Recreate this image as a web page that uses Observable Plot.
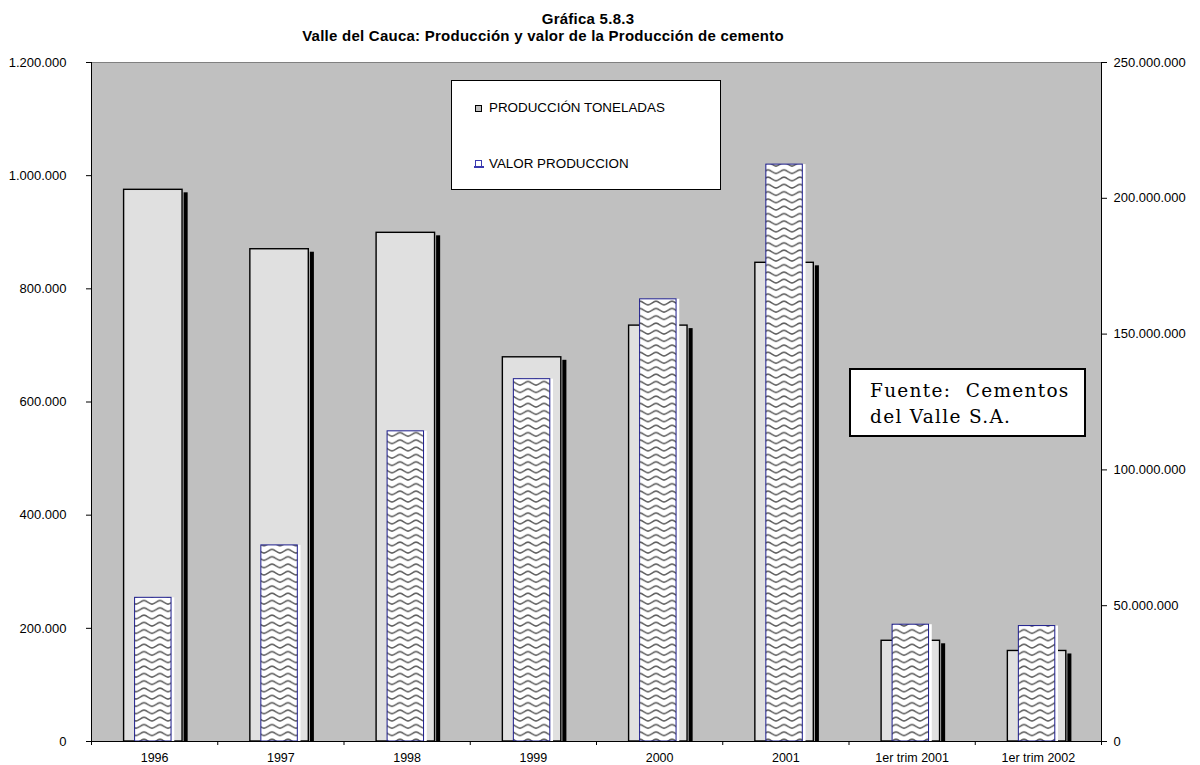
<!DOCTYPE html>
<html>
<head>
<meta charset="utf-8">
<script src="https://cdn.jsdelivr.net/npm/d3@7"></script>
<script src="https://cdn.jsdelivr.net/npm/@observablehq/plot@0.6"></script>
<style>
  html, body { margin: 0; padding: 0; background: #fff; }
  #wrap { position: relative; width: 1200px; height: 765px; overflow: hidden; font-family: "Liberation Sans", Arial, sans-serif; color: #000; }
  #wrap svg { position: absolute; left: 0; top: 0; }
  .title { position: absolute; font-weight: bold; font-size: 15px; line-height: 17px; letter-spacing: 0.25px; white-space: nowrap; transform: translateX(-50%); z-index: 2; }
  .legend { position: absolute; left: 451px; top: 80px; width: 270px; height: 110px; box-sizing: border-box; border: 1.3px solid #000; background: #fff; z-index: 2; }
  .lgtext { position: absolute; font-size: 13.4px; line-height: 1; white-space: nowrap; z-index: 3; }
  .sw1 { position: absolute; left: 475px; top: 105px; width: 7px; height: 7px; box-sizing: border-box; border: 1.3px solid #000; background: #c0c0c0; z-index: 3; }
  .sw2 { position: absolute; left: 475px; top: 160px; width: 7px; height: 7px; box-sizing: border-box; border: 1.4px solid #3a3ab0; border-bottom-width: 0; background: #fff; z-index: 3; }
  .sw2b { position: absolute; left: 474px; top: 166px; width: 10px; height: 2px; background: #3a3ab0; z-index: 3; }
  .fuente { position: absolute; left: 849px; top: 368px; width: 237px; height: 69px; box-sizing: border-box; border: 2px solid #000; background: #fff; z-index: 2; }
  .ftext { position: absolute; left: 870px; top: 378px; font-family: "DejaVu Serif", "Liberation Serif", serif; font-size: 18.5px; line-height: 25.6px; letter-spacing: 1.3px; white-space: pre; z-index: 3; }
</style>
</head>
<body>
<div id="wrap">
  <div class="title" style="left:588px; top:10px;">Gráfica 5.8.3</div>
  <div class="title" style="left:543px; top:27px;">Valle del Cauca: Producción y valor de la Producción de cemento</div>
  <div class="legend"></div>
  <div class="sw1"></div>
  <div class="lgtext" style="left:489px; top:101px;">PRODUCCIÓN TONELADAS</div>
  <div class="sw2"></div>
  <div class="sw2b"></div>
  <div class="lgtext" style="left:489px; top:157px;">VALOR PRODUCCION</div>
  <div class="fuente"></div>
  <div class="ftext">Fuente:  Cementos
del Valle S.A.</div>
</div>
<script>
// ---- data ----
const categories = ["1996", "1997", "1998", "1999", "2000", "2001", "1er trim 2001", "1er trim 2002"];
const produccion = [975000, 870000, 899000, 679000, 735000, 846000, 178000, 160000];      // toneladas (left axis)
const valor = [52900000, 72200000, 114200000, 133400000, 162800000, 212400000, 43000000, 42500000]; // pesos (right axis)
const leftTicks = [0, 200000, 400000, 600000, 800000, 1000000, 1200000];
const rightTicks = [0, 50000000, 100000000, 150000000, 200000000, 250000000];

const leftMax = 1200000, rightMax = 250000000;
const ratio = leftMax / rightMax;
const data = categories.map((c, i) => ({ i, cat: c, prod: produccion[i], val: valor[i] * ratio }));
const fmt = d3.formatLocale({ decimal: ",", thousands: ".", grouping: [3], currency: ["", ""] }).format(",.0f");

const chart = Plot.plot({
  width: 1200,
  height: 765,
  marginLeft: 91,
  marginRight: 99,
  marginTop: 62,
  marginBottom: 24,
  style: { fontFamily: '"Liberation Sans", Arial, sans-serif', fontSize: "13px", background: "transparent", color: "#000" },
  x: { domain: [0, categories.length], axis: null, label: null },
  y: { domain: [0, leftMax], axis: null, label: null },
  marks: [
    Plot.frame({ fill: "#c0c0c0", stroke: "#808080" }),
    // shadow of production bars
    Plot.rect(data, { x1: "i", x2: d => d.i + 1, y1: 0, y2: "prod", fill: "#000", insetLeft: 92.6, insetRight: 29.6, dy: 3, insetBottom: 3 }),
    // production bars
    Plot.rect(data, { x1: "i", x2: d => d.i + 1, y1: 0, y2: "prod", fill: "#e0e0e0", stroke: "#000", strokeWidth: 1.4, insetLeft: 32.6, insetRight: 35.2 }),
    // white side strip of value bars
    Plot.rect(data, { x1: "i", x2: d => d.i + 1, y1: 0, y2: "val", fill: "#fff", insetLeft: 46, insetRight: 43 }),
    // value bars (patterned)
    Plot.rect(data, { x1: "i", x2: d => d.i + 1, y1: 0, y2: "val", fill: "url(#zig)", stroke: "#1c1c8c", strokeWidth: 1, insetLeft: 43.6, insetRight: 46.2 }),
    Plot.ruleY([0], { stroke: "#000" }),
    Plot.ruleX([0, categories.length], { stroke: "#000" }),
    Plot.axisY(leftTicks, { anchor: "left", label: null, tickSize: 5, tickPadding: 20, tickFormat: fmt }),
    Plot.axisY(rightTicks.map(v => v * ratio), { anchor: "right", label: null, tickSize: 5, tickPadding: 7, tickFormat: d => fmt(d / ratio) }),
    Plot.axisX(d3.range(categories.length + 1), { anchor: "bottom", label: null, tickSize: 4, tickFormat: () => "" }),
    Plot.axisX(d3.range(categories.length).map(i => i + 0.5), { anchor: "bottom", label: null, tickSize: 0, tickPadding: 12, fontSize: 12.5, tickFormat: d => categories[Math.floor(d)] })
  ]
});

d3.select(chart).insert("defs", ":first-child").html(
  '<pattern id="zig" patternUnits="userSpaceOnUse" width="16" height="7.3">' +
  '<rect width="16" height="7.3" fill="#fff"/>' +
  '<path d="M0,2 C3,2 5,5.6 8,5.6 C11,5.6 13,2 16,2" fill="none" stroke="#5e5e5e" stroke-width="1.5"/>' +
  '</pattern>'
);

document.getElementById("wrap").appendChild(chart);
</script>
</body>
</html>
